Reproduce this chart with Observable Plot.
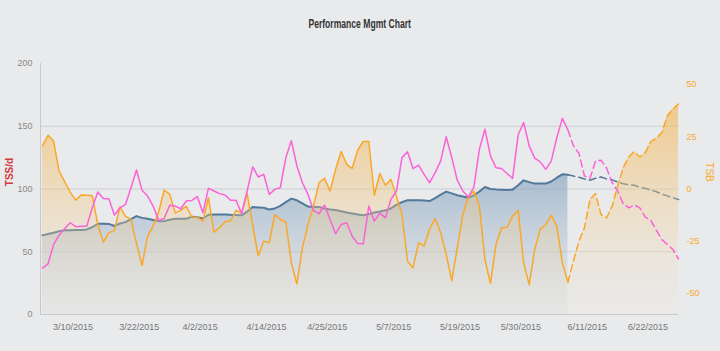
<!DOCTYPE html>
<html><head><meta charset="utf-8">
<script src="https://cdn.jsdelivr.net/npm/d3@7"></script>
<script src="https://cdn.jsdelivr.net/npm/@observablehq/plot@0.6"></script>
<style>
html,body{margin:0;padding:0;background:#e9eaec;}
#wrap{position:relative;width:720px;height:351px;}
#title{position:absolute;top:16px;left:0;width:720px;text-align:center;font-family:"Liberation Sans",Arial,sans-serif;font-size:13px;font-weight:bold;color:#333;}
#title span{display:inline-block;transform:scaleX(0.66);transform-origin:center;}
</style></head><body>
<div id="wrap"><div id="title"><span>Performance Mgmt Chart</span></div></div>
<script>
const startDate = new Date(2015, 2, 5);
const todayIndex = 95;
const ctl = [63.2,64.2,65.2,66.4,67.2,67.2,67.3,67.4,67.8,69.5,
72.3,72.4,72.2,70.5,72.5,73.6,76,78.4,77,76.3,
75.3,74.4,74.4,75.5,76.3,76.3,76.3,77.8,77.5,76.5,
79.5,79.7,79.7,79.7,79.4,79.2,79,82,85.6,85.3,
85,83.7,84.5,86.5,89.5,92.3,91,88.6,86,85.6,
85.6,84.5,83.6,83.2,82.3,81.3,80.5,79.7,79,80,
81.3,82,83,84.5,87.3,89.5,91,91,91,90.8,
90.4,92.8,95.5,97.9,96.5,95,94,93,94.8,98,
101.6,100,99.7,99.5,99.3,99.5,103,106.9,105.5,104.3,
104.3,104.3,106,109,111.7,111.3,110.3,109.3,108,107,
108.5,109.6,108,107.3,105.5,104.2,103.5,103,101.5,100.5,
99.2,97.8,96,94.5,93,91.7];
const atl = [37,40.3,55.7,63.2,68.3,73.1,70,70.4,70.4,85,
97.6,92.5,92.3,79.2,85,87.7,101,115.2,99,94.4,
86.4,75,76.5,87,86.4,84.3,90.4,90.9,94,81,
100.5,98.4,96.3,95.2,91,91,80.3,98.4,117.6,109.6,
111.7,95.7,99.7,101,125,138.4,118.4,105,95.7,83,
80.3,87.2,75.7,64.3,71.7,73.1,62.4,56.5,56.3,86.4,
74.4,81,77,91.7,98.4,125,129.6,116.3,119,111.7,
105,113,122.4,141.6,125,107,98.4,93.6,101.6,131.7,
147.7,126.4,117,116.3,112.3,108.5,143,153,134.4,124.6,
121.6,115.7,122.4,141,156.3,147,134.4,128.3,110.4,108.5,
122.4,123,116.5,105,98.4,88.3,85,87.2,85,77.6,
75,67,59.7,55.7,51.7,44.3];
const tsb = [20.6,25.7,23,8.6,3.5,-1.5,-5.3,-2.9,-3,-3.2,
-17,-25.4,-21,-19.8,-8.6,-13,-14.5,-26,-36.6,-22.5,
-17.7,-11,-0.6,-2.5,-11.4,-10.2,-8.3,-13.4,-13.5,-15.3,
-4.2,-20.6,-18.5,-15.7,-15.3,-10.2,-11.4,-2.2,-17,-32,
-25,-25.7,-12.2,-14.6,-15.8,-35.3,-45.4,-28,-17,-8.2,
3,5.1,-1,9.4,17.9,11.8,9.9,18.6,22.7,22.7,
-3,7.4,1.8,4.6,-3.4,-12.2,-34.5,-37.7,-25.7,-27.3,
-19,-14.2,-21,-31.3,-43.8,-28.1,-12.2,-3.8,-1,-8.2,
-33.7,-45.2,-26.5,-18.5,-18.3,-13,-10.2,-35.3,-45.7,-28.9,
-19.3,-17,-12.6,-17.7,-35.3,-44.6,-34.5,-25,-18.5,-5,
-2.2,-12.2,-13.8,-8.2,1.4,10.2,15.3,17.9,15.3,17.4,
22.7,24.3,27,35,38.2,40.6];
const xTickLabels = ["3/10/2015","3/22/2015","4/2/2015","4/14/2015","4/25/2015","5/7/2015","5/19/2015","5/30/2015","6/11/2015","6/22/2015"];
const leftTicks = [0,50,100,150,200];
const rightTicks = [50,25,0,-25,-50];
const gridTicks = [50,100,150];

const tsbToLeft = v => 100 + v * 100 / 60;
const leftToTsb = v => Math.round((v - 100) * 60 / 100);

const rows = ctl.map((c, i) => ({
  date: d3.timeDay.offset(startDate, i),
  ctl: c, atl: atl[i], tsb: tsb[i], tsbY: tsbToLeft(tsb[i])
}));
const past = rows.slice(0, todayIndex + 1);
const future = rows.slice(todayIndex);
const parse = d3.timeParse("%m/%d/%Y");
const tickDates = xTickLabels.map(s => d3.timeHour.offset(parse(s), 12));
const fmt = d3.timeFormat("%-m/%-d/%Y");

const defs = () => {
  const d = d3.create("svg:defs");
  const g1 = d.append("linearGradient").attr("id", "ctlGrad").attr("x1", 0).attr("y1", 0).attr("x2", 0).attr("y2", 1);
  g1.append("stop").attr("offset", 0).attr("stop-color", "#7a9bbb").attr("stop-opacity", 0.6);
  g1.append("stop").attr("offset", 1).attr("stop-color", "#d4d9dd").attr("stop-opacity", 0.25);
  const g2 = d.append("linearGradient").attr("id", "tsbGrad").attr("x1", 0).attr("y1", 0).attr("x2", 0).attr("y2", 1);
  g2.append("stop").attr("offset", 0).attr("stop-color", "#f5ad38").attr("stop-opacity", 0.55);
  g2.append("stop").attr("offset", 1).attr("stop-color", "#efe6d4").attr("stop-opacity", 0.15);
  return d.node();
};

const ctlColor = "#52799a", atlColor = "#fb62d8", tsbColor = "#f9a82a";
const chart = Plot.plot({
  width: 720, height: 351,
  marginTop: 63, marginBottom: 37, marginLeft: 40, marginRight: 42,
  style: {background: "transparent", fontFamily: "'Liberation Sans', Arial, sans-serif", fontSize: "9px", overflow: "visible"},
  x: {type: "time", domain: [rows[0].date, rows[rows.length - 1].date], range: [42, 678], axis: null},
  y: {domain: [0, 200], axis: null},
  marks: [
    defs,
    Plot.ruleY(gridTicks, {stroke: "#cdced1", strokeWidth: 1}),
    Plot.areaY(past, {x: "date", y1: 0, y2: "ctl", fill: "url(#ctlGrad)"}),
    Plot.lineY(past, {x: "date", y: "ctl", stroke: ctlColor, strokeWidth: 2}),
    Plot.lineY(future, {x: "date", y: "ctl", stroke: ctlColor, strokeWidth: 1.5, strokeDasharray: "7,4"}),
    Plot.areaY(rows, {x: "date", y1: 0, y2: "tsbY", fill: "url(#tsbGrad)"}),
    Plot.lineY(past, {x: "date", y: "tsbY", stroke: tsbColor, strokeWidth: 1.5}),
    Plot.lineY(future, {x: "date", y: "tsbY", stroke: tsbColor, strokeWidth: 1.5, strokeDasharray: "7,4"}),
    Plot.lineY(past, {x: "date", y: "atl", stroke: atlColor, strokeWidth: 1.5}),
    Plot.lineY(future, {x: "date", y: "atl", stroke: atlColor, strokeWidth: 1.5, strokeDasharray: "7,4"}),
    Plot.frame({anchor: "left", stroke: "#c8c9cc"}),
    Plot.ruleY([0], {stroke: "#c8c9cc"}),
    Plot.axisY(leftTicks, {anchor: "left", tickSize: 0, tickPadding: 8, fill: "#888", label: null}),
    Plot.axisY(rightTicks.map(tsbToLeft), {anchor: "right", tickSize: 0, tickPadding: 8, fill: tsbColor, tickFormat: leftToTsb, label: null}),
    Plot.axisX(tickDates, {anchor: "bottom", tickSize: 0, tickPadding: 9, fill: "#777", tickFormat: fmt, label: null}),
    Plot.text(["TSS/d"], {frameAnchor: "left", dx: -31, dy: -17, rotate: -90, textAnchor: "middle", text: d => d, fill: "#d23a3a", fontWeight: "bold", fontSize: 10}),
    Plot.text(["TSB"], {frameAnchor: "right", dx: 31, dy: -17, rotate: 90, textAnchor: "middle", text: d => d, fill: tsbColor, fontSize: 10})
  ]
});
document.getElementById("wrap").appendChild(chart);
</script>
</body></html>
